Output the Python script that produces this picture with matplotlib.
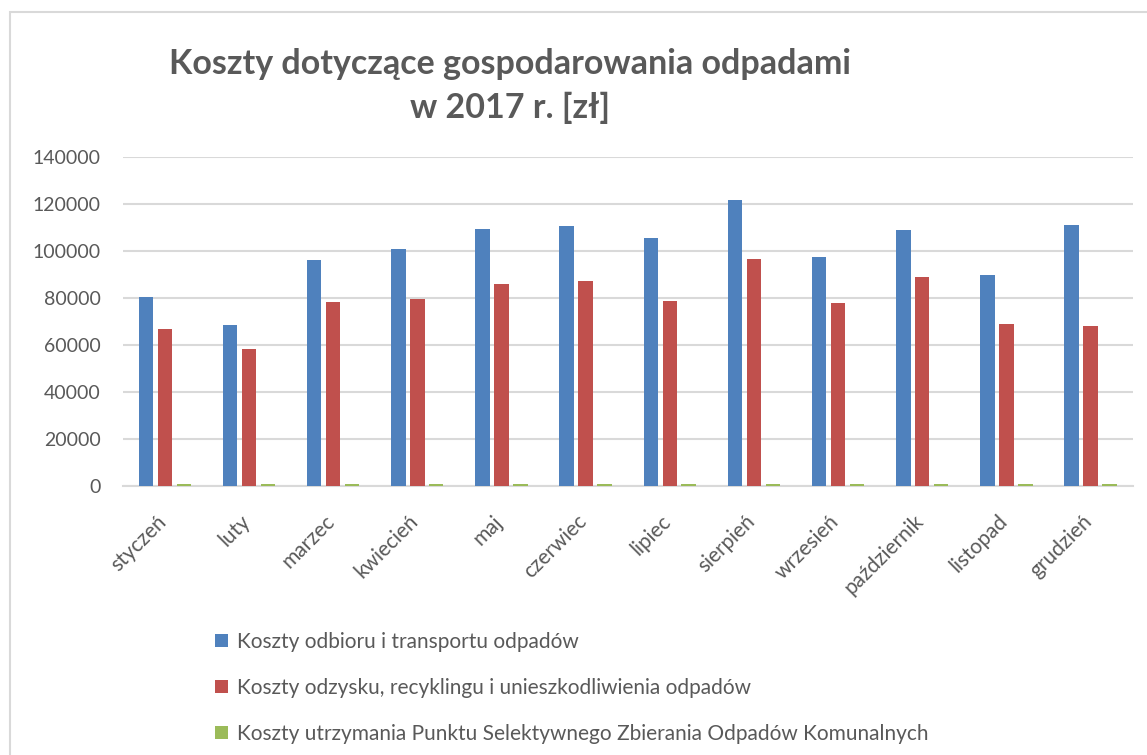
import numpy as np
import matplotlib.pyplot as plt
from matplotlib.patches import Rectangle
from matplotlib.transforms import ScaledTranslation

plt.rcParams['font.family'] = ['Lato', 'DejaVu Sans']

# dane
miesiace = ['styczeń', 'luty', 'marzec', 'kwiecień', 'maj', 'czerwiec',
            'lipiec', 'sierpień', 'wrzesień', 'październik', 'listopad', 'grudzień']
odbior = [80600, 68600, 96300, 100800, 109600, 110800,
          105800, 121800, 97700, 109100, 89800, 111100]
odzysk = [66800, 58400, 78600, 79700, 86000, 87400,
          78900, 96700, 77900, 89100, 69100, 68200]
pszok = [900, 900, 900, 900, 900, 900, 900, 900, 900, 900, 900, 900]
serie = ['Koszty odbioru i transportu odpadów',
         'Koszty odzysku, recyklingu i unieszkodliwienia odpadów',
         'Koszty utrzymania Punktu Selektywnego Zbierania Odpadów Komunalnych']
kolory = ['#4F81BD', '#C0504D', '#9BBB59']
yticks = [0, 20000, 40000, 60000, 80000, 100000, 120000, 140000]

szary = '#595959'
siatka = '#D9D9D9'

fig = plt.figure(figsize=(11.47, 7.55), dpi=100)
ax = fig.add_axes([0.107, 0.3559, 0.8805, 0.4358])

x = np.arange(len(miesiace))
w = 0.172
krok = 0.225
for i, (vals, lab, c) in enumerate(zip([odbior, odzysk, pszok], serie, kolory)):
    ax.bar(x + (i - 1) * krok, vals, width=w, color=c, label=lab, zorder=3)

ax.set_xlim(-0.5, len(miesiace) - 0.5)
ax.set_ylim(0, 140000)
ax.set_yticks(yticks)
ax.set_yticklabels([str(v) for v in yticks])
ax.set_xticks(x)
ax.set_xticklabels(miesiace, rotation=45, ha='right', rotation_mode='anchor')
ax.yaxis.grid(True, color=siatka, linewidth=1.5, zorder=0)
ax.tick_params(axis='both', length=0, labelcolor=szary)
ax.tick_params(axis='y', pad=16, labelsize=14)
ax.tick_params(axis='x', pad=18, labelsize=15)
# przesunięcie podpisów miesięcy w lewo
przes = ScaledTranslation(-0.09, 0, fig.dpi_scale_trans)
for t in ax.get_xticklabels():
    t.set_transform(t.get_transform() + przes)
for s in ['top', 'right', 'left']:
    ax.spines[s].set_visible(False)
ax.spines['bottom'].set_color(siatka)
ax.spines['bottom'].set_linewidth(1.5)

fig.text(0.445, 0.937, 'Koszty dotyczące gospodarowania odpadami\nw 2017 r. [zł]',
         ha='center', va='top', multialignment='center', fontsize=24.5,
         fontweight='bold', color=szary, linespacing=1.45)

fig.legend(loc='upper left', bbox_to_anchor=(0.1805, 0.174), frameon=False,
           fontsize=15, labelcolor=szary, handlelength=0.6, handleheight=0.6,
           handletextpad=0.45, labelspacing=1.25, borderaxespad=0)

fig.patches.append(Rectangle((10 / 1147, -0.1), 1.2, 1.1 - 12 / 755,
                             transform=fig.transFigure, fill=False,
                             edgecolor=siatka, linewidth=1.5))

fig.savefig('out.png', dpi=100)
